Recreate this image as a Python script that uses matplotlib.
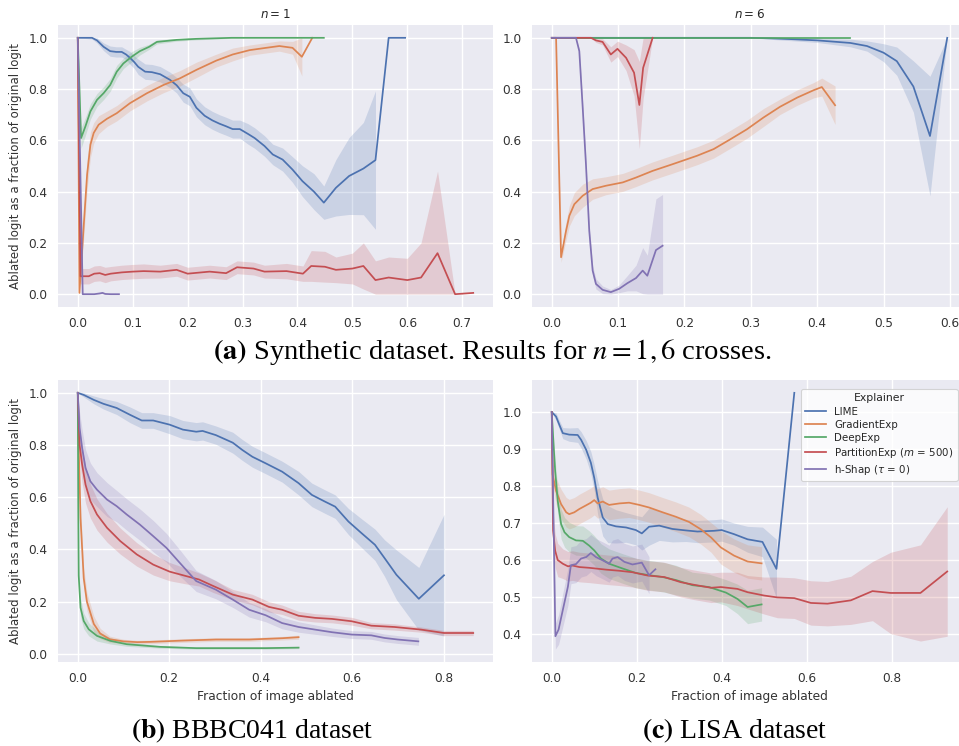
import numpy as np
import matplotlib
matplotlib.use("Agg")
import matplotlib.pyplot as plt
from matplotlib.ticker import MultipleLocator

NAN = float("nan")

EXPLAINERS = ["LIME", "GradientExp", "DeepExp", r"PartitionExp ($m$ = 500)", r"h-Shap ($\tau$ = 0)"]
COLORS = ["#4C72B0", "#DD8452", "#55A868", "#C44E52", "#8172B3"]

TITLES = [r"$n = 1$", r"$n = 6$"]
XLABEL = "Fraction of image ablated"
YLABEL = "Ablated logit as a fraction of original logit"
CAPTION_A = r"$\mathbf{(a)}$ Synthetic dataset. Results for $n = 1, 6$ crosses."
CAPTION_B = r"$\mathbf{(b)}$ BBBC041 dataset"
CAPTION_C = r"$\mathbf{(c)}$ LISA dataset"

# ---------------- (a) synthetic, n = 1 ----------------
TL_LIME_X = [0, 0.026, 0.035, 0.047, 0.059, 0.07, 0.08, 0.088, 0.095, 0.103, 0.11, 0.1226, 0.135, 0.15, 0.168, 0.18, 0.192, 0.204, 0.216, 0.231, 0.245, 0.258, 0.27, 0.282, 0.295, 0.31, 0.322, 0.34, 0.355, 0.373, 0.391, 0.409, 0.43, 0.448, 0.470, 0.494, 0.52, 0.542, 0.566, 0.596]
TL_LIME_Y = [1.0, 1.0, 0.99, 0.965, 0.948, 0.945, 0.945, 0.935, 0.922, 0.905, 0.887, 0.868, 0.866, 0.858, 0.836, 0.815, 0.784, 0.77, 0.727, 0.696, 0.678, 0.665, 0.655, 0.644, 0.644, 0.625, 0.609, 0.578, 0.545, 0.525, 0.486, 0.441, 0.40, 0.357, 0.415, 0.461, 0.49, 0.523, 1.0, 1.0]
TL_LIME_E = [0, 0.005, 0.01, 0.015, 0.02, 0.02, 0.02, 0.02, 0.025, 0.025, 0.03, 0.03, 0.03, 0.03, 0.03, 0.03, 0.035, 0.035, 0.035, 0.035, 0.035, 0.035, 0.035, 0.035, 0.035, 0.04, 0.04, 0.04, 0.04, 0.045, 0.05, 0.06, 0.07, 0.065, 0.11, 0.15, 0.18, 0.27, NAN, NAN]

TL_GRAD_X = [0, 0.003, 0.011, 0.017, 0.023, 0.029, 0.038, 0.053, 0.071, 0.095, 0.126, 0.156, 0.186, 0.216, 0.252, 0.282, 0.313, 0.343, 0.367, 0.391, 0.408, 0.427]
TL_GRAD_Y = [1.0, 0.005, 0.273, 0.467, 0.583, 0.629, 0.661, 0.684, 0.706, 0.745, 0.784, 0.816, 0.842, 0.875, 0.911, 0.935, 0.952, 0.961, 0.968, 0.961, 0.926, 1.0]
TL_GRAD_E = [0, 0.0, 0.05, 0.06, 0.05, 0.04, 0.035, 0.03, 0.03, 0.03, 0.03, 0.03, 0.03, 0.03, 0.025, 0.025, 0.02, 0.02, 0.02, 0.025, 0.075, NAN]

TL_DEEP_X = [0, 0.006, 0.014, 0.023, 0.035, 0.047, 0.059, 0.071, 0.083, 0.098, 0.113, 0.13, 0.144, 0.18, 0.216, 0.28, 0.35, 0.448]
TL_DEEP_Y = [1.0, 0.609, 0.655, 0.713, 0.758, 0.784, 0.816, 0.868, 0.9, 0.926, 0.948, 0.965, 0.984, 0.992, 0.996, 1.0, 1.0, 1.0]
TL_DEEP_E = [0, 0.04, 0.035, 0.03, 0.025, 0.025, 0.025, 0.025, 0.02, 0.02, 0.015, 0.01, 0.008, 0.005, 0.004, 0.002, 0.0, 0.0]

TL_PART_X = [0, 0.005, 0.01, 0.02, 0.03, 0.04, 0.05, 0.06, 0.08, 0.1, 0.12, 0.15, 0.18, 0.2, 0.24, 0.27, 0.29, 0.32, 0.34, 0.38, 0.41, 0.425, 0.45, 0.47, 0.5, 0.52, 0.542, 0.566, 0.6, 0.625, 0.655, 0.687, 0.72]
TL_PART_Y = [1.0, 0.07, 0.07, 0.07, 0.08, 0.082, 0.075, 0.08, 0.085, 0.088, 0.09, 0.088, 0.095, 0.08, 0.088, 0.082, 0.105, 0.1, 0.088, 0.09, 0.08, 0.11, 0.107, 0.095, 0.1, 0.11, 0.055, 0.065, 0.055, 0.065, 0.16, 0.0, 0.005]
TL_PART_E = [0, 0.03, 0.03, 0.03, 0.03, 0.03, 0.03, 0.028, 0.028, 0.028, 0.028, 0.025, 0.025, 0.025, 0.025, 0.025, 0.025, 0.025, 0.025, 0.03, 0.03, 0.06, 0.06, 0.05, 0.06, 0.09, 0.075, 0.08, 0.085, 0.135, 0.32, 0.0, 0.0]

TL_HSHAP_X = [0, 0.009, 0.02, 0.03, 0.04, 0.045, 0.05, 0.06, 0.075]
TL_HSHAP_Y = [1.0, 0.0, 0.0, 0.0, 0.003, 0.005, 0.001, 0.0, 0.0]
TL_HSHAP_E = [0, 0.002, 0.002, 0.002, 0.003, 0.004, 0.002, 0.001, 0.0]

# ---------------- (a) synthetic, n = 6 ----------------
TR_LIME_X = [0, 0.1, 0.2, 0.3, 0.33, 0.36, 0.4, 0.45, 0.475, 0.5, 0.52, 0.545, 0.57, 0.596]
TR_LIME_Y = [1.0, 1.0, 1.0, 1.0, 0.998, 0.995, 0.99, 0.98, 0.968, 0.942, 0.909, 0.81, 0.617, 1.0]
TR_LIME_E = [0, 0, 0, 0, 0.004, 0.006, 0.008, 0.015, 0.02, 0.035, 0.055, 0.10, 0.233, 0]

TR_GRAD_X = [0, 0.0065, 0.014, 0.0215, 0.0265, 0.034, 0.0466, 0.0616, 0.0816, 0.107, 0.127, 0.152, 0.182, 0.219, 0.244, 0.269, 0.294, 0.319, 0.344, 0.37, 0.395, 0.407, 0.427]
TR_GRAD_Y = [1.0, 1.0, 0.144, 0.247, 0.306, 0.351, 0.384, 0.41, 0.423, 0.436, 0.455, 0.481, 0.507, 0.54, 0.566, 0.604, 0.643, 0.689, 0.731, 0.767, 0.796, 0.808, 0.737]
TR_GRAD_E = [0, 0, 0.02, 0.035, 0.04, 0.045, 0.045, 0.04, 0.035, 0.035, 0.035, 0.035, 0.035, 0.035, 0.035, 0.035, 0.035, 0.035, 0.03, 0.03, 0.03, 0.035, 0.075]

TR_DEEP_X = [0, 0.1, 0.2, 0.3, 0.45]
TR_DEEP_Y = [1.0, 1.0, 1.0, 1.0, 1.0]
TR_DEEP_E = [0, 0, 0, 0, 0]

TR_PART_X = [0, 0.059, 0.0666, 0.0766, 0.089, 0.099, 0.112, 0.124, 0.132, 0.1377, 0.152]
TR_PART_Y = [1.0, 1.0, 0.99, 0.984, 0.935, 0.957, 0.922, 0.864, 0.738, 0.883, 1.0]
TR_PART_E = [0, 0, 0.008, 0.012, 0.03, 0.03, 0.05, 0.09, 0.17, 0.12, 0.0]

TR_HSHAP_X = [0, 0.0365, 0.0415, 0.0466, 0.0515, 0.0565, 0.0616, 0.0666, 0.0766, 0.089, 0.1016, 0.114, 0.127, 0.137, 0.144, 0.157, 0.167]
TR_HSHAP_Y = [1.0, 1.0, 0.948, 0.728, 0.507, 0.247, 0.092, 0.04, 0.017, 0.008, 0.021, 0.043, 0.063, 0.092, 0.072, 0.172, 0.189]
TR_HSHAP_E = [0, 0, 0.01, 0.02, 0.02, 0.02, 0.02, 0.02, 0.015, 0.01, 0.015, 0.03, 0.05, 0.09, 0.08, 0.2, 0.2]

# ---------------- (b) BBBC041 ----------------
BL_LIME_X = [0, 0.013, 0.035, 0.056, 0.085, 0.114, 0.14, 0.165, 0.201, 0.23, 0.259, 0.273, 0.302, 0.339, 0.36, 0.382, 0.411, 0.447, 0.483, 0.512, 0.541, 0.563, 0.592, 0.621, 0.65, 0.671, 0.697, 0.746, 0.801]
BL_LIME_Y = [1.0, 0.992, 0.973, 0.958, 0.942, 0.916, 0.894, 0.894, 0.878, 0.859, 0.851, 0.854, 0.838, 0.809, 0.781, 0.755, 0.73, 0.698, 0.654, 0.609, 0.583, 0.564, 0.507, 0.462, 0.418, 0.367, 0.303, 0.211, 0.301]
BL_LIME_E = [0, 0.008, 0.015, 0.02, 0.025, 0.03, 0.03, 0.03, 0.035, 0.035, 0.035, 0.035, 0.035, 0.04, 0.04, 0.04, 0.04, 0.04, 0.045, 0.045, 0.045, 0.045, 0.05, 0.055, 0.06, 0.07, 0.095, 0.12, 0.233]

BL_GRAD_X = [0, 0.002, 0.006, 0.013, 0.02, 0.035, 0.049, 0.07, 0.1, 0.13, 0.158, 0.23, 0.302, 0.375, 0.447, 0.483]
BL_GRAD_Y = [1.0, 0.8, 0.52, 0.29, 0.2, 0.115, 0.078, 0.056, 0.048, 0.045, 0.046, 0.051, 0.055, 0.055, 0.06, 0.064]
BL_GRAD_E = [0, 0.04, 0.05, 0.04, 0.035, 0.03, 0.02, 0.012, 0.008, 0.007, 0.007, 0.007, 0.007, 0.007, 0.007, 0.008]

BL_DEEP_X = [0, 0.001, 0.002, 0.006, 0.013, 0.024, 0.042, 0.071, 0.107, 0.179, 0.259, 0.339, 0.411, 0.483]
BL_DEEP_Y = [1.0, 0.58, 0.3, 0.177, 0.126, 0.094, 0.069, 0.05, 0.037, 0.027, 0.022, 0.022, 0.022, 0.024]
BL_DEEP_E = [0, 0.04, 0.04, 0.035, 0.03, 0.025, 0.02, 0.012, 0.008, 0.005, 0.004, 0.004, 0.004, 0.004]

BL_PART_X = [0, 0.004, 0.0095, 0.017, 0.0276, 0.042, 0.064, 0.093, 0.129, 0.165, 0.201, 0.237, 0.265, 0.295, 0.339, 0.382, 0.418, 0.447, 0.483, 0.519, 0.556, 0.599, 0.642, 0.693, 0.751, 0.801, 0.865]
BL_PART_Y = [1.0, 0.80, 0.725, 0.648, 0.585, 0.534, 0.483, 0.432, 0.381, 0.342, 0.315, 0.298, 0.285, 0.261, 0.227, 0.208, 0.18, 0.169, 0.146, 0.138, 0.134, 0.125, 0.108, 0.103, 0.093, 0.08, 0.08]
BL_PART_E = [0, 0.06, 0.07, 0.07, 0.065, 0.06, 0.055, 0.05, 0.045, 0.04, 0.035, 0.03, 0.025, 0.025, 0.02, 0.02, 0.02, 0.018, 0.017, 0.016, 0.015, 0.015, 0.012, 0.012, 0.01, 0.01, 0.01]

BL_HSHAP_X = [0, 0.004, 0.0095, 0.017, 0.0276, 0.042, 0.064, 0.085, 0.107, 0.136, 0.165, 0.194, 0.223, 0.259, 0.302, 0.339, 0.375, 0.411, 0.447, 0.483, 0.519, 0.556, 0.599, 0.642, 0.671, 0.7, 0.745]
BL_HSHAP_Y = [1.0, 0.865, 0.789, 0.712, 0.661, 0.629, 0.591, 0.566, 0.534, 0.495, 0.451, 0.406, 0.349, 0.279, 0.246, 0.208, 0.169, 0.148, 0.118, 0.103, 0.093, 0.083, 0.074, 0.071, 0.061, 0.055, 0.048]
BL_HSHAP_E = [0, 0.06, 0.07, 0.07, 0.07, 0.065, 0.065, 0.06, 0.06, 0.06, 0.06, 0.055, 0.05, 0.04, 0.035, 0.03, 0.028, 0.025, 0.022, 0.02, 0.018, 0.016, 0.015, 0.015, 0.015, 0.015, 0.015]

# ---------------- (c) LISA ----------------
BR_LIME_X = [0, 0.01, 0.018, 0.026, 0.041, 0.061, 0.069, 0.081, 0.092, 0.1, 0.108, 0.12, 0.132, 0.151, 0.175, 0.198, 0.212, 0.229, 0.253, 0.284, 0.316, 0.343, 0.382, 0.4, 0.429, 0.461, 0.496, 0.529, 0.571]
BR_LIME_Y = [1.0, 0.988, 0.965, 0.943, 0.939, 0.938, 0.925, 0.898, 0.863, 0.822, 0.769, 0.715, 0.697, 0.691, 0.688, 0.681, 0.672, 0.69, 0.693, 0.684, 0.68, 0.677, 0.679, 0.681, 0.67, 0.656, 0.649, 0.576, 1.052]
BR_LIME_E = [0, 0.01, 0.012, 0.015, 0.018, 0.02, 0.022, 0.025, 0.03, 0.035, 0.045, 0.05, 0.05, 0.045, 0.04, 0.04, 0.045, 0.05, 0.04, 0.035, 0.03, 0.03, 0.03, 0.03, 0.03, 0.035, 0.04, 0.08, NAN]

BR_GRAD_X = [0, 0.002, 0.01, 0.022, 0.034, 0.041, 0.053, 0.065, 0.081, 0.092, 0.1, 0.108, 0.12, 0.135, 0.159, 0.182, 0.206, 0.229, 0.261, 0.292, 0.323, 0.351, 0.375, 0.398, 0.429, 0.461, 0.494]
BR_GRAD_Y = [1.0, 0.831, 0.787, 0.751, 0.729, 0.724, 0.729, 0.738, 0.748, 0.755, 0.762, 0.753, 0.758, 0.749, 0.753, 0.755, 0.749, 0.742, 0.729, 0.717, 0.703, 0.683, 0.661, 0.634, 0.612, 0.596, 0.591]
BR_GRAD_E = [0, 0.03, 0.035, 0.04, 0.04, 0.04, 0.04, 0.04, 0.04, 0.04, 0.04, 0.04, 0.04, 0.04, 0.04, 0.04, 0.04, 0.04, 0.04, 0.04, 0.04, 0.04, 0.04, 0.045, 0.045, 0.045, 0.045]

BR_DEEP_X = [0, 0.004, 0.008, 0.014, 0.022, 0.03, 0.041, 0.057, 0.073, 0.088, 0.1, 0.116, 0.135, 0.167, 0.198, 0.229, 0.261, 0.292, 0.331, 0.37, 0.41, 0.437, 0.461, 0.494]
BR_DEEP_Y = [1.0, 0.916, 0.84, 0.76, 0.697, 0.675, 0.662, 0.653, 0.652, 0.639, 0.626, 0.604, 0.59, 0.577, 0.565, 0.559, 0.554, 0.546, 0.532, 0.527, 0.512, 0.495, 0.473, 0.48]
BR_DEEP_E = [0, 0.02, 0.03, 0.035, 0.04, 0.04, 0.04, 0.04, 0.04, 0.04, 0.04, 0.04, 0.04, 0.04, 0.04, 0.04, 0.04, 0.04, 0.035, 0.035, 0.035, 0.04, 0.045, 0.045]

BR_PART_X = [0, 0.003, 0.008, 0.014, 0.026, 0.038, 0.049, 0.065, 0.088, 0.112, 0.128, 0.159, 0.19, 0.226, 0.265, 0.304, 0.335, 0.375, 0.398, 0.437, 0.461, 0.5, 0.531, 0.571, 0.61, 0.649, 0.704, 0.755, 0.798, 0.868, 0.931]
BR_PART_Y = [1.0, 0.68, 0.625, 0.6, 0.59, 0.583, 0.585, 0.581, 0.579, 0.576, 0.574, 0.571, 0.567, 0.558, 0.554, 0.54, 0.533, 0.525, 0.527, 0.522, 0.513, 0.504, 0.499, 0.497, 0.484, 0.482, 0.491, 0.516, 0.511, 0.511, 0.569]
BR_PART_E = [0, 0.05, 0.045, 0.045, 0.04, 0.04, 0.04, 0.04, 0.04, 0.04, 0.04, 0.04, 0.04, 0.04, 0.04, 0.04, 0.04, 0.04, 0.04, 0.045, 0.045, 0.05, 0.055, 0.055, 0.06, 0.06, 0.065, 0.08, 0.11, 0.13, 0.175]

BR_HSHAP_X = [0, 0.0085, 0.016, 0.026, 0.038, 0.045, 0.057, 0.069, 0.081, 0.092, 0.104, 0.12, 0.135, 0.143, 0.155, 0.171, 0.19, 0.212, 0.229, 0.244]
BR_HSHAP_Y = [1.0, 0.394, 0.412, 0.465, 0.528, 0.586, 0.589, 0.604, 0.608, 0.619, 0.608, 0.599, 0.59, 0.604, 0.608, 0.595, 0.588, 0.593, 0.559, 0.575]
BR_HSHAP_E = [0, 0.035, 0.04, 0.045, 0.05, 0.05, 0.05, 0.05, 0.05, 0.05, 0.05, 0.05, 0.05, 0.05, 0.05, 0.05, 0.05, 0.05, 0.05, NAN]

PANELS = {
    "TL": [(TL_LIME_X, TL_LIME_Y, TL_LIME_E), (TL_GRAD_X, TL_GRAD_Y, TL_GRAD_E), (TL_DEEP_X, TL_DEEP_Y, TL_DEEP_E),
           (TL_PART_X, TL_PART_Y, TL_PART_E), (TL_HSHAP_X, TL_HSHAP_Y, TL_HSHAP_E)],
    "TR": [(TR_LIME_X, TR_LIME_Y, TR_LIME_E), (TR_GRAD_X, TR_GRAD_Y, TR_GRAD_E), (TR_DEEP_X, TR_DEEP_Y, TR_DEEP_E),
           (TR_PART_X, TR_PART_Y, TR_PART_E), (TR_HSHAP_X, TR_HSHAP_Y, TR_HSHAP_E)],
    "BL": [(BL_LIME_X, BL_LIME_Y, BL_LIME_E), (BL_GRAD_X, BL_GRAD_Y, BL_GRAD_E), (BL_DEEP_X, BL_DEEP_Y, BL_DEEP_E),
           (BL_PART_X, BL_PART_Y, BL_PART_E), (BL_HSHAP_X, BL_HSHAP_Y, BL_HSHAP_E)],
    "BR": [(BR_LIME_X, BR_LIME_Y, BR_LIME_E), (BR_GRAD_X, BR_GRAD_Y, BR_GRAD_E), (BR_DEEP_X, BR_DEEP_Y, BR_DEEP_E),
           (BR_PART_X, BR_PART_Y, BR_PART_E), (BR_HSHAP_X, BR_HSHAP_Y, BR_HSHAP_E)],
}

# ---------------- style ----------------
plt.rcParams.update({
    "font.family": ["DejaVu Sans"],
    "axes.facecolor": "#EAEAF2",
    "axes.edgecolor": "white",
    "axes.grid": True,
    "grid.color": "white",
    "grid.linewidth": 1.0,
    "axes.axisbelow": True,
    "xtick.major.size": 0,
    "ytick.major.size": 0,
    "xtick.major.pad": 7.5,
    "ytick.major.pad": 7.5,
    "xtick.color": "#333333",
    "ytick.color": "#333333",
    "xtick.labelsize": 8.7,
    "ytick.labelsize": 8.7,
    "axes.labelcolor": "#333333",
    "text.color": "#262626",
})

W, H = 959, 746
fig = plt.figure(figsize=(W / 100, H / 100), dpi=100)


def rect(x0, y0, x1, y1):
    return [x0 / W, 1 - y1 / H, (x1 - x0) / W, (y1 - y0) / H]


axes = {
    "TL": fig.add_axes(rect(58, 25, 493, 307)),
    "TR": fig.add_axes(rect(532, 25, 967, 307)),
    "BL": fig.add_axes(rect(58, 380, 493, 662)),
    "BR": fig.add_axes(rect(532, 380, 967, 662)),
}

for key, ax in axes.items():
    clip = key in ("TL", "TR")
    for (x, y, e), color, label in zip(PANELS[key], COLORS, EXPLAINERS):
        x = np.asarray(x, float)
        y = np.asarray(y, float)
        e = np.asarray(e, float)
        lo, hi = y - e, y + e
        if clip:
            lo = np.clip(lo, 0, 1)
            hi = np.clip(hi, 0, 1)
        ax.fill_between(x, lo, hi, color=color, alpha=0.2, linewidth=0)
        ax.plot(x, y, color=color, lw=1.25, label=label)
    for s in ax.spines.values():
        s.set_visible(False)

axes["TL"].xaxis.set_major_locator(MultipleLocator(0.1))
axes["TR"].xaxis.set_major_locator(MultipleLocator(0.1))
axes["BL"].xaxis.set_major_locator(MultipleLocator(0.2))
axes["BR"].xaxis.set_major_locator(MultipleLocator(0.2))
for k in ("TL", "TR", "BL"):
    axes[k].yaxis.set_major_locator(MultipleLocator(0.2))
axes["BR"].yaxis.set_major_locator(MultipleLocator(0.1))
for ax in axes.values():
    ax.xaxis.set_major_formatter(matplotlib.ticker.FormatStrFormatter("%.1f"))
    ax.yaxis.set_major_formatter(matplotlib.ticker.FormatStrFormatter("%.1f"))

axes["TL"].set_title(TITLES[0], fontsize=8.6, pad=5)
axes["TR"].set_title(TITLES[1], fontsize=8.6, pad=5)
axes["TL"].set_ylabel(YLABEL, fontsize=8.5, labelpad=5)
axes["BL"].set_ylabel(YLABEL, fontsize=8.5, labelpad=5)
axes["BL"].set_xlabel(XLABEL, fontsize=8.8, labelpad=3)
axes["BR"].set_xlabel(XLABEL, fontsize=8.8, labelpad=3)

leg = axes["BR"].legend(title="Explainer", loc="upper right", bbox_to_anchor=(0.99, 0.985),
                        fontsize=7.4, title_fontsize=7.8, frameon=True, fancybox=True,
                        borderpad=0.4, labelspacing=0.3, handlelength=2.0)
leg.get_frame().set_facecolor("white")
leg.get_frame().set_alpha(0.8)
leg.get_frame().set_edgecolor("#cccccc")
leg.get_frame().set_linewidth(0.8)

cap_kw = dict(ha="center", va="center", family="Liberation Serif", color="black", math_fontfamily="stix")
fig.text(492 / W, 1 - 352 / H, CAPTION_A, fontsize=20.5, **cap_kw)
fig.text(252 / W, 1 - 731 / H, CAPTION_B, fontsize=20, **cap_kw)
fig.text(735 / W, 1 - 731 / H, CAPTION_C, fontsize=20, **cap_kw)

fig.savefig("out.png", dpi=100)
